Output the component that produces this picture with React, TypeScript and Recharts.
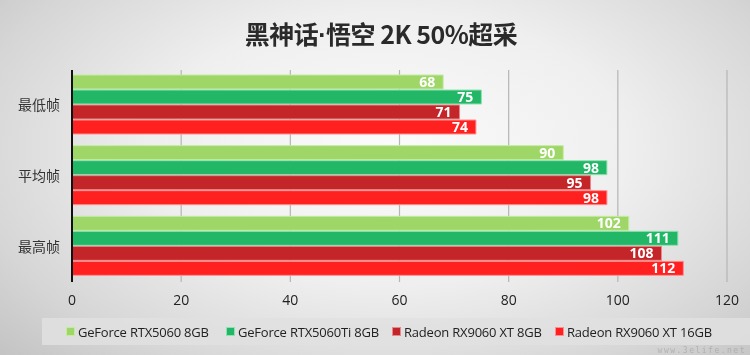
import React from "react";
import { BarChart, Bar, XAxis, YAxis, CartesianGrid, LabelList } from "recharts";

const categories = ["最低帧", "平均帧", "最高帧"];
const rtx5060 = [68, 90, 102];
const rtx5060ti = [75, 98, 111];
const rx9060xt8 = [71, 95, 108];
const rx9060xt16 = [74, 98, 112];
const xTicks = [0, 20, 40, 60, 80, 100, 120];

const series = [
  { key: "rtx5060", name: "GeForce RTX5060 8GB", color: "#9fd668", stroke: "#c4eba0", values: rtx5060 },
  { key: "rtx5060ti", name: "GeForce RTX5060Ti 8GB", color: "#22b767", stroke: "#8fe2b0", values: rtx5060ti },
  { key: "rx9060xt8", name: "Radeon RX9060 XT 8GB", color: "#c42528", stroke: "#e58a8c", values: rx9060xt8 },
  { key: "rx9060xt16", name: "Radeon RX9060 XT 16GB", color: "#ff2020", stroke: "#ff8f8f", values: rx9060xt16 },
];
// legend item left edges inside the legend box
const legendLefts = [24, 184, 350, 513];

const data = categories.map((c, i) => {
  const row: Record<string, string | number> = { name: c };
  series.forEach((s) => (row[s.key] = s.values[i]));
  return row;
});

const font = "'Open Sans', 'Noto Sans CJK SC', sans-serif";

export default function App() {
  return (
    <div
      style={{
        position: "fixed",
        left: 0,
        top: 0,
        width: 750,
        height: 355,
        overflow: "hidden",
        fontFamily: font,
        background: "radial-gradient(ellipse 70% 85% at 52% 42%, #fbfbfb 0%, #efefef 45%, #d6d6d6 80%, #c4c4c4 100%)",
      }}
    >
      <div
        style={{
          position: "absolute",
          top: 15,
          left: 0,
          width: 762,
          textAlign: "center",
          fontFamily: "'Noto Sans CJK SC', sans-serif",
          fontWeight: 700,
          fontSize: 25,
          letterSpacing: -0.5,
          color: "#2a2a2a",
        }}
      >
        黑神话<span style={{ fontFamily: "'Liberation Sans', sans-serif" }}>·</span>悟空 2K 50%超采
      </div>
      <BarChart
        width={750}
        height={355}
        data={data}
        layout="vertical"
        margin={{ top: 70, right: 23, left: 0, bottom: 43 }}
        barCategoryGap={5}
        barGap={1}
      >
        <CartesianGrid vertical horizontal={false} stroke="#b5b5b5" strokeWidth={1.2} />
        <XAxis
          type="number"
          domain={[0, 120]}
          ticks={xTicks}
          axisLine={false}
          tickLine={false}
          height={30}
          tickMargin={7}
          tick={{ fontSize: 14, fill: "#222", fontFamily: font }}
        />
        <YAxis
          type="category"
          dataKey="name"
          width={72}
          axisLine={{ stroke: "#111", strokeWidth: 2 }}
          tickLine={false}
          tickMargin={6}
          tick={{ fontSize: 14, fill: "#333", fontFamily: "'Noto Sans CJK SC', sans-serif" }}
        />
        {series.map((s) => (
          <Bar
            key={s.key}
            dataKey={s.key}
            name={s.name}
            fill={s.color}
            stroke={s.stroke}
            strokeWidth={1}
            isAnimationActive={false}
          >
            <LabelList
              dataKey={s.key}
              position="insideRight"
              offset={8}
              fill="#fff"
              fontSize={14}
              fontWeight={700}
              fontFamily={font}
            />
          </Bar>
        ))}
      </BarChart>
      <div
        style={{
          position: "absolute",
          left: 42,
          top: 318,
          width: 720,
          height: 27,
          background: "rgba(225,225,225,0.85)",
          fontSize: 13,
          letterSpacing: -0.2,
          color: "#222",
        }}
      >
        {series.map((s, i) => (
          <div
            key={s.key}
            style={{
              position: "absolute",
              left: legendLefts[i],
              top: 0,
              height: 27,
              display: "flex",
              alignItems: "center",
              whiteSpace: "nowrap",
            }}
          >
            <span style={{ width: 7, height: 7, background: s.color, border: `1px solid ${s.stroke}`, marginRight: 3 }} />
            <span>{s.name}</span>
          </div>
        ))}
      </div>
      <div
        style={{
          position: "absolute",
          right: 4,
          bottom: 0,
          color: "rgba(150,150,150,0.5)",
          fontFamily: "'DejaVu Sans Mono', monospace",
          fontSize: 8,
          letterSpacing: 1.5,
          lineHeight: 1,
        }}
      >
        www.3elife.net
      </div>
    </div>
  );
}
